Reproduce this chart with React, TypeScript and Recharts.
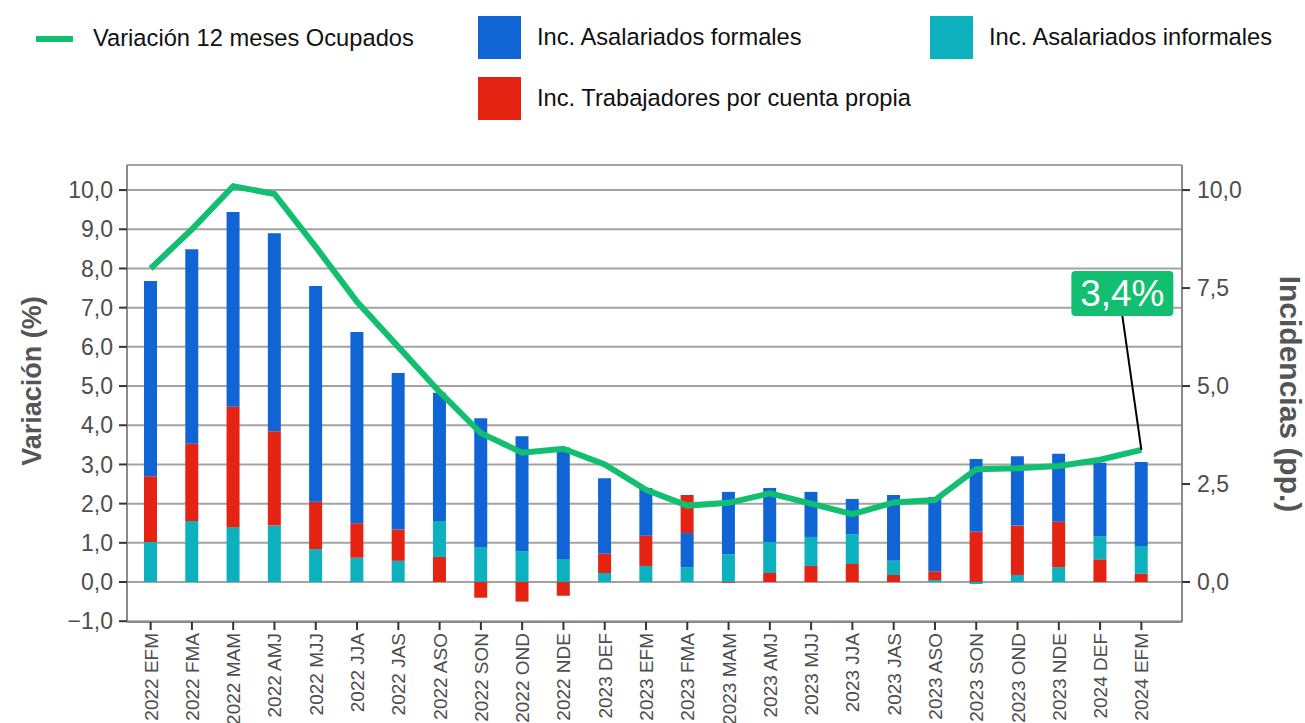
import React from 'react'
import { ComposedChart, Bar, Line, Cell, XAxis, YAxis, CartesianGrid } from 'recharts'

const periods = [
  '2022 EFM', '2022 FMA', '2022 MAM', '2022 AMJ', '2022 MJJ', '2022 JJA', '2022 JAS', '2022 ASO', '2022 SON',
  '2022 OND', '2022 NDE', '2023 DEF', '2023 EFM', '2023 FMA', '2023 MAM', '2023 AMJ', '2023 MJJ', '2023 JJA',
  '2023 JAS', '2023 ASO', '2023 SON', '2023 OND', '2023 NDE', '2024 DEF', '2024 EFM',
]
const variacionOcupados = [
  8.0, 9.0, 10.1, 9.9, 8.55, 7.15, 6.0, 4.85, 3.8, 3.3, 3.4, 3.0, 2.35,
  1.95, 2.02, 2.26, 2.0, 1.73, 2.03, 2.09, 2.88, 2.9, 2.96, 3.12, 3.37,
]
const incFormales = [
  4.98, 4.96, 4.97, 5.05, 5.5, 4.88, 3.99, 3.27, 3.29, 2.93, 2.84, 1.93, 1.22,
  0.87, 1.59, 1.38, 1.15, 0.9, 1.68, 1.9, 1.86, 1.77, 1.73, 1.87, 2.14,
]
const incInformales = [
  1.02, 1.56, 1.4, 1.44, 0.84, 0.62, 0.54, 0.92, 0.89, 0.79, 0.59, 0.23, 0.41,
  0.38, 0.71, 0.79, 0.74, 0.76, 0.36, 0.05, -0.05, 0.18, 0.38, 0.59, 0.71,
]
const incCuentaPropia = [
  1.68, 1.97, 3.07, 2.41, 1.21, 0.88, 0.8, 0.64, -0.4, -0.5, -0.35, 0.49, 0.77,
  0.97, -0.02, 0.23, 0.41, 0.46, 0.18, 0.22, 1.28, 1.26, 1.16, 0.58, 0.21,
]
const leftTicks = [-1, 0, 1, 2, 3, 4, 5, 6, 7, 8, 9, 10]
const rightTicks = [0, 2.5, 5, 7.5, 10]

const GREEN = '#12bf71'
const BLUE = '#1064d4'
const TEAL = '#0db1bd'
const RED = '#e42313'
const FONT = '"Liberation Sans", Arial, sans-serif'

// each bar is stacked smallest component first, like the source chart
const parts = [
  { name: 'formales', color: BLUE, values: incFormales },
  { name: 'informales', color: TEAL, values: incInformales },
  { name: 'propia', color: RED, values: incCuentaPropia },
]

const data = periods.map((p, i) => {
  const sorted = parts
    .map((s) => ({ v: s.values[i], color: s.color }))
    .sort((a, b) => a.v - b.v)
  return {
    label: p,
    linea: variacionOcupados[i],
    s0: sorted[0].v, c0: sorted[0].color,
    s1: sorted[1].v, c1: sorted[1].color,
    s2: sorted[2].v, c2: sorted[2].color,
  }
})

const fmt = (v: number) => v.toFixed(1).replace('.', ',').replace('-', '\u2212')

const XTick = ({ x, y, payload }: any) => (
  <g transform={`translate(${x},${y})`}>
    <text transform="rotate(-90)" x={0} y={0} dy={7} textAnchor="end" fill="#4d4d4d" fontSize={19} fontFamily={FONT}>
      {payload.value}
    </text>
  </g>
)

const lastIdx = periods.length - 1

const Callout = (props: any) => {
  const { x, y, index, value } = props
  if (index !== lastIdx) return <g />
  const bx = x - 70
  const by = y - 179
  return (
    <g>
      <line x1={x - 19} y1={by + 45} x2={x} y2={y} stroke="#000" strokeWidth={2} />
      <rect x={bx} y={by} width={102} height={45} rx={4} fill={GREEN} />
      <text x={bx + 51} y={by + 35} textAnchor="middle" fill="#fff" fontSize={37} fontFamily={FONT}>
        {value.toFixed(1).replace('.', ',') + '%'}
      </text>
    </g>
  )
}

const legendText: React.CSSProperties = {
  position: 'absolute', fontSize: 23.7, color: '#111', fontFamily: FONT, lineHeight: '43px', whiteSpace: 'nowrap',
}
const sq = (left: number, top: number, color: string): React.CSSProperties => ({
  position: 'absolute', left, top, width: 43, height: 43, background: color,
})

export default function App() {
  return (
    <div style={{ position: 'absolute', left: 0, top: 0, width: 1305, height: 723, background: '#fff' }}>
      <div style={{ position: 'absolute', left: 36, top: 36, width: 37, height: 6, background: GREEN }} />
      <div style={{ ...legendText, left: 93, top: 17 }}>Variación 12 meses Ocupados</div>
      <div style={sq(478, 16, BLUE)} />
      <div style={{ ...legendText, left: 537, top: 16 }}>Inc. Asalariados formales</div>
      <div style={sq(930, 16, TEAL)} />
      <div style={{ ...legendText, left: 989, top: 16 }}>Inc. Asalariados informales</div>
      <div style={sq(478, 77, RED)} />
      <div style={{ ...legendText, left: 537, top: 77 }}>Inc. Trabajadores por cuenta propia</div>

      <ComposedChart
        width={1305}
        height={723}
        data={data}
        stackOffset="sign"
        margin={{ top: 165, right: 0, bottom: 0, left: 0 }}
        style={{ position: 'absolute', left: 0, top: 0 }}
      >
        <CartesianGrid yAxisId="left" vertical={false} stroke="#a3a3a3" strokeWidth={2} />
        <XAxis
          dataKey="label"
          interval={0}
          height={101}
          padding={{ left: 3, right: 20 }}
          tick={<XTick />}
          tickSize={8}
          tickMargin={3}
          tickLine={{ stroke: '#333', strokeWidth: 2 }}
          axisLine={{ stroke: '#8a8a8a', strokeWidth: 2 }}
        />
        <YAxis
          yAxisId="left"
          width={127}
          domain={[-1.02, 10.64]}
          ticks={leftTicks}
          tickFormatter={fmt}
          tick={{ fill: '#4d4d4d', fontSize: 23, fontFamily: FONT }}
          tickSize={8}
          tickMargin={6}
          tickLine={{ stroke: '#333', strokeWidth: 2 }}
          axisLine={{ stroke: '#8a8a8a', strokeWidth: 2 }}
          label={{
            content: () => (
              <text x={0} y={0} transform="translate(41,381) rotate(-90)" textAnchor="middle" fill="#555" fontSize={27} fontWeight="bold" fontFamily={FONT}>
                Variación (%)
              </text>
            ),
          }}
        />
        <YAxis
          yAxisId="right"
          orientation="right"
          width={123}
          domain={[-1.02, 10.64]}
          ticks={rightTicks}
          tickFormatter={fmt}
          tick={{ fill: '#4d4d4d', fontSize: 23, fontFamily: FONT }}
          tickSize={8}
          tickMargin={7}
          tickLine={{ stroke: '#333', strokeWidth: 2 }}
          axisLine={{ stroke: '#8a8a8a', strokeWidth: 2 }}
          label={{
            content: () => (
              <text x={0} y={0} transform="translate(1280,394) rotate(90)" textAnchor="middle" fill="#555" fontSize={30} fontWeight="bold" fontFamily={FONT}>
                Incidencias (pp.)
              </text>
            ),
          }}
        />
        {[0, 1, 2].map((k) => (
          <Bar key={k} dataKey={`s${k}`} yAxisId="right" stackId="inc" barSize={13} isAnimationActive={false}>
            {data.map((d: any, i) => (
              <Cell key={i} fill={d[`c${k}`]} />
            ))}
          </Bar>
        ))}
        <Line
          yAxisId="left"
          dataKey="linea"
          type="linear"
          stroke={GREEN}
          strokeWidth={6}
          dot={false}
          isAnimationActive={false}
          label={Callout}
        />
      </ComposedChart>
    </div>
  )
}
